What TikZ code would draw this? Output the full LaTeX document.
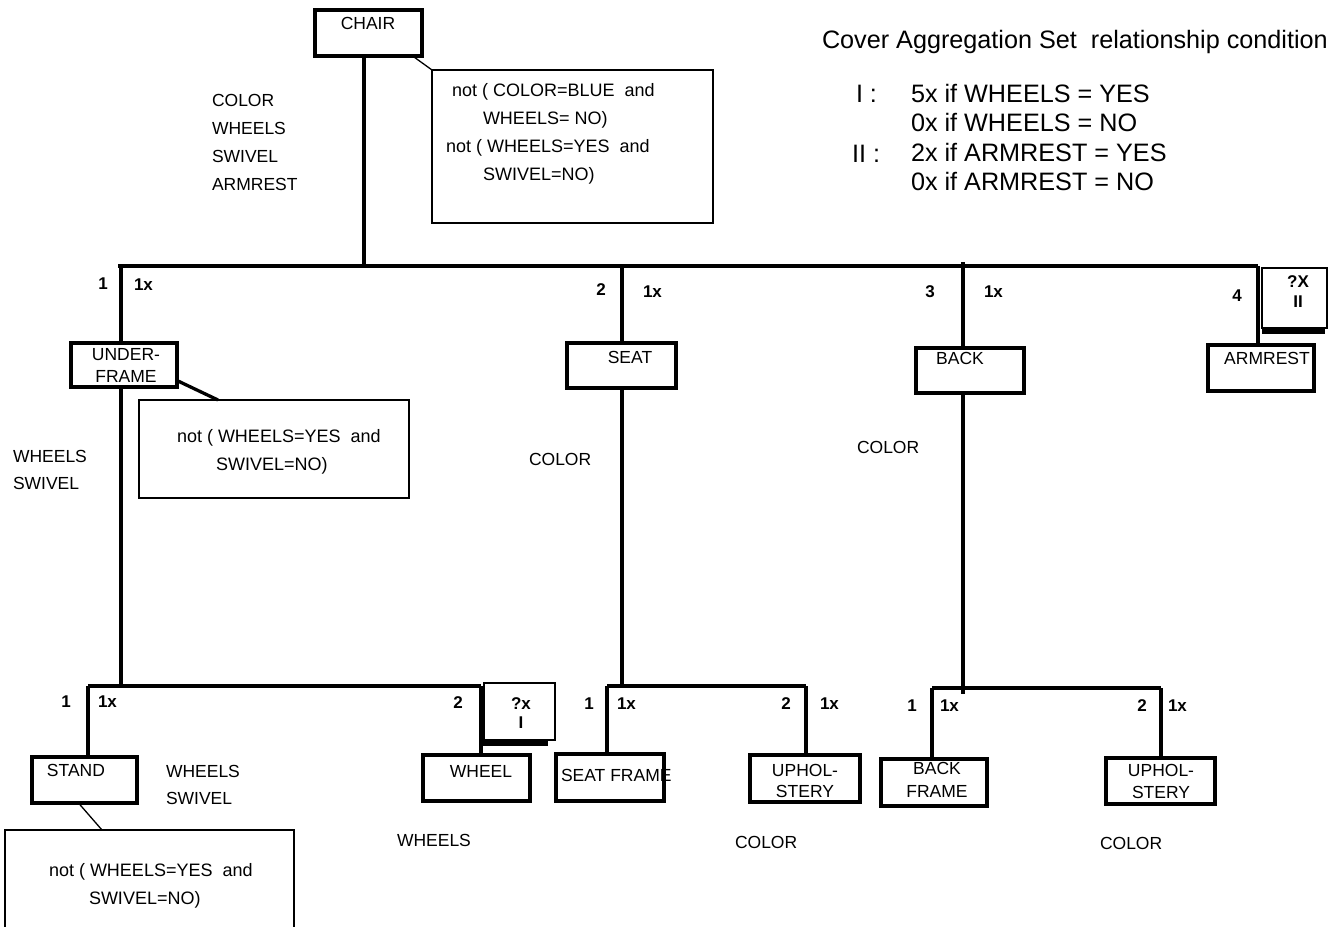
\documentclass[tikz,border=0pt]{standalone}
\usepackage{fontspec}
\setmainfont{Liberation Sans}
\usetikzlibrary{calc}
\begin{document}
\begin{tikzpicture}[x=1pt,y=-1pt,
  every node/.style={inner sep=0pt, outer sep=0pt},
  txt/.style={font=\fontsize{17.5}{28}\selectfont},
  lbl/.style={font=\fontsize{17.5}{22}\selectfont, align=center},
  num/.style={font=\bfseries\fontsize{17}{20}\selectfont},
  big/.style={font=\fontsize{25.2}{29.5}\selectfont},
  cons/.style={font=\fontsize{18}{28}\selectfont, align=left, anchor=north west},
  partbox/.style={draw, line width=3.6pt},
  consbox/.style={draw, line width=1.4pt},
  countbox/.style={draw, line width=1.4pt},
  tree/.style={line width=3.3pt},
  thinlink/.style={line width=1.3pt},
  shadow/.style={line width=5.5pt}
]
\useasboundingbox (0,0) rectangle (1335,926);

% ---------- part boxes ----------
\node[partbox, minimum width=107pt, minimum height=46pt] (chair) at (368.5,33) {};
\node[partbox, minimum width=106pt, minimum height=44pt] (uf) at (124,365) {};
\node[partbox, minimum width=109pt, minimum height=45pt] (seat) at (621.5,365.5) {};
\node[partbox, minimum width=108pt, minimum height=45pt] (back) at (970,370.5) {};
\node[partbox, minimum width=106pt, minimum height=46pt] (arm) at (1261,368) {};
\node[partbox, minimum width=105pt, minimum height=46pt] (stand) at (84.5,780) {};
\node[partbox, minimum width=107pt, minimum height=46pt] (wheel) at (476.5,778) {};
\node[partbox, minimum width=108pt, minimum height=47pt] (sframe) at (610,777.5) {};
\node[partbox, minimum width=110pt, minimum height=47pt] (uphA) at (805,778.5) {};
\node[partbox, minimum width=106pt, minimum height=47pt] (bframe) at (934,782.5) {};
\node[partbox, minimum width=109pt, minimum height=46pt] (uphB) at (1160.5,781) {};

% ---------- part names ----------
\node[lbl] (chairT) at (368,23.5) {CHAIR};
\node[lbl] (ufT) at (126,365) {UNDER-\\FRAME};
\node[lbl] (seatT) at (630,357) {SEAT};
\node[lbl] (backT) at (960,358) {BACK};
\node[lbl] (armT) at (1267,358) {ARMREST};
\node[lbl] (standT) at (76,770) {STAND};
\node[lbl] (wheelT) at (481,771) {WHEEL};
\node[lbl, anchor=west] (sframeT) at (561,775) {SEAT FRAME};
\node[lbl, font=\fontsize{17.5}{21}\selectfont] (uphAT) at (805,780.5) {UPHOL-\\STERY};
\node[lbl, font=\fontsize{17.5}{23}\selectfont] (bframeT) at (937,779.5) {BACK\\FRAME};
\node[lbl] (uphBT) at (1161,781) {UPHOL-\\STERY};

% ---------- cover aggregation boxes ----------
\node[countbox, minimum width=71pt, minimum height=57pt] (qI) at (519.5,711.5) {};
\node[lbl, font=\bfseries\fontsize{17}{19}\selectfont] (qIT) at (521,713.5) {?x\\I};
\draw[shadow] ($(qI.south west)+(-2,3)$) -- ($(qI.south east)+(-7,3)$);
\node[countbox, minimum width=65pt, minimum height=60pt] (qII) at (1294.5,298) {};
\node[lbl, font=\bfseries\fontsize{17}{20}\selectfont] (qIIT) at (1298,292) {?X\\II};
\draw[shadow] ($(qII.south west)+(0,3)$) -- ($(qII.south east)+(-2,3)$);

% ---------- tree connectors ----------
\coordinate (jc) at (364,266);
\coordinate (j1) at (121,266);
\coordinate (j2) at (622,266);
\coordinate (j3) at (963,266);
\coordinate (j4) at (1258,266);
\coordinate (a1) at (88,686);
\coordinate (a2) at (481,686);
\coordinate (b1) at (607,686);
\coordinate (b2) at (806,686);
\coordinate (c1) at (932,688);
\coordinate (c2) at (1161,688);

\draw[tree] (jc |- chair.south) -- (jc);
\draw[tree] ($(j1)+(-3,0)$) -- (j4);
\draw[tree] (j1) -- (j1 |- uf.north);
\draw[tree] (j2) -- (j2 |- seat.north);
\draw[tree] ($(j3)+(0,-4)$) -- (j3 |- back.north);
\draw[tree] (j4) -- (j4 |- arm.north);

\draw[tree] (j1 |- uf.south) -- (j1 |- a1);
\draw[tree] (a1) -- (a2);
\draw[tree] (a1) -- (a1 |- stand.north);
\draw[tree] (a2) -- (a2 |- wheel.north);

\draw[tree] (j2 |- seat.south) -- (j2 |- b1);
\draw[tree] (b1) -- (b2);
\draw[tree] (b1) -- (b1 |- sframe.north);
\draw[tree] (b2) -- (b2 |- uphA.north);

\draw[tree] (j3 |- back.south) -- ($(j3 |- c1)+(0,6)$);
\draw[tree] (c1) -- (c2);
\draw[tree] (c1) -- (c1 |- bframe.north);
\draw[tree] (c2) -- (c2 |- uphB.north);

% ---------- sequence numbers and counts ----------
\node[num] (n1) at (103,284) {1};
\node[num, anchor=west] (m1) at (134,285) {1x};
\node[num] (n2) at (601,290) {2};
\node[num, anchor=west] (m2) at (643,292) {1x};
\node[num] (n3) at (930,292) {3};
\node[num, anchor=west] (m3) at (984,292) {1x};
\node[num] (n4) at (1237,296) {4};

\node[num] (n11) at (66,702) {1};
\node[num, anchor=west] (m11) at (98,702) {1x};
\node[num] (n12) at (458,703) {2};
\node[num] (n21) at (589,704) {1};
\node[num, anchor=west] (m21) at (617,704) {1x};
\node[num] (n22) at (786,704) {2};
\node[num, anchor=west] (m22) at (820,704) {1x};
\node[num] (n31) at (912,706) {1};
\node[num, anchor=west] (m31) at (940,706) {1x};
\node[num] (n32) at (1142,706) {2};
\node[num, anchor=west] (m32) at (1168,706) {1x};

% ---------- attributes ----------
\node[txt, align=left, anchor=north west] (chairA) at (212,94.5) {COLOR\\WHEELS\\SWIVEL\\ARMREST};
\node[txt, align=left, anchor=north west, font=\fontsize{17.5}{27}\selectfont] (ufA) at (13,450.5) {WHEELS\\SWIVEL};
\node[txt, anchor=west] (seatA) at (529,459) {COLOR};
\node[txt, anchor=west] (backA) at (857,447) {COLOR};
\node[txt, align=left, anchor=north west, font=\fontsize{17.5}{27}\selectfont] (standA) at (166,765.5) {WHEELS\\SWIVEL};
\node[txt, anchor=west] (wheelA) at (397,840) {WHEELS};
\node[txt, anchor=west] (uphAA) at (735,842) {COLOR};
\node[txt, anchor=west] (uphBA) at (1100,843) {COLOR};

% ---------- constraints ----------
\node[consbox, minimum width=281pt, minimum height=153pt] (cons1) at (572.5,146.5) {};
\node[cons] (cons1T) at (446,83) {\hspace*{6pt}not ( COLOR=BLUE\ \ and\\\hspace*{37pt}WHEELS= NO)\\not ( WHEELS=YES\ \ and\\\hspace*{37pt}SWIVEL=NO)};
\draw[thinlink] ($(chair.south east)+(-8,1)$) -- (cons1.north west);

\node[consbox, minimum width=270pt, minimum height=98pt] (cons2) at (274,449) {};
\node[cons] (cons2T) at (177,429) {not ( WHEELS=YES\ \ and\\\hspace*{39pt}SWIVEL=NO)};
\draw[tree] ($(uf.south east)+(1,-6)$) -- ($(cons2.north west)+(79,0)$);

\node[consbox, minimum width=289pt, minimum height=140pt] (cons3) at (149.5,900) {};
\node[cons] (cons3T) at (49,863) {not ( WHEELS=YES\ \ and\\\hspace*{40pt}SWIVEL=NO)};
\draw[thinlink] ($(stand.south)+(-6,0)$) -- ($(cons3.north west)+(97,0)$);

% ---------- legend ----------
\node[big, anchor=base west] (legT) at (822,48) {Cover Aggregation Set\ \ relationship condition};
\node[big, anchor=base west] (legI) at (856,102) {I :};
\node[big, anchor=base west] (legII) at (852,162) {II :};
\node[big, align=left, anchor=north west] (legL) at (911,84) {5x if WHEELS = YES\\0x if WHEELS = NO\\2x if ARMREST = YES\\0x if ARMREST = NO};

\end{tikzpicture}
\end{document}
